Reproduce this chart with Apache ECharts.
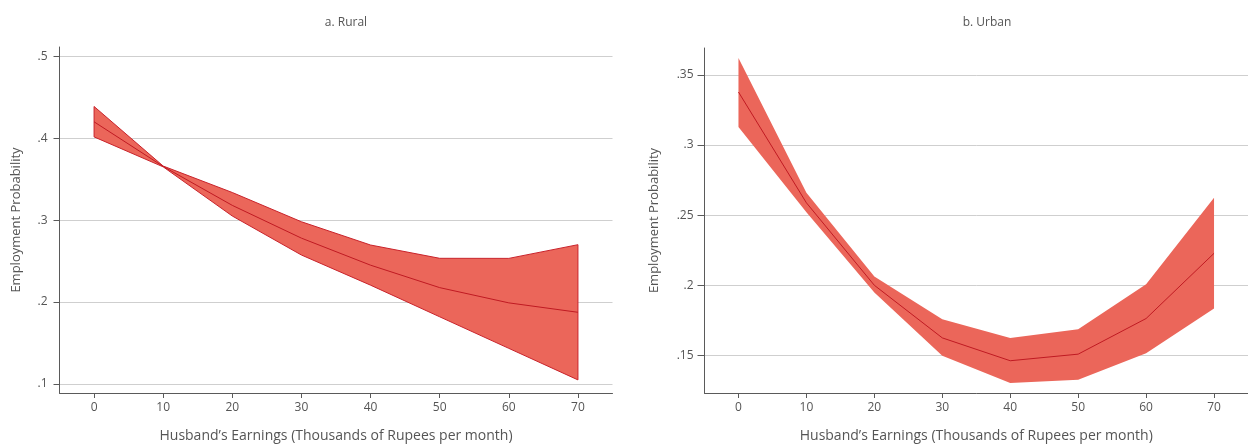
<!DOCTYPE html>
<html>
<head>
<meta charset="utf-8">
<script src="https://cdn.jsdelivr.net/npm/echarts@6/dist/echarts.min.js"></script>
<style>
html,body{margin:0;padding:0;background:#fff;}
#chart{width:1248px;height:448px;}
</style>
</head>
<body>
<div id="chart"></div>
<script>
// ---- data ----
const earnings = [0, 10, 20, 30, 40, 50, 60, 70];
const xTicks = [0, 10, 20, 30, 40, 50, 60, 70];

const ruralMean  = [0.420, 0.3655, 0.318, 0.278, 0.245, 0.2176, 0.199, 0.1875];
const ruralUpper = [0.4387, 0.366, 0.3337, 0.298, 0.2696, 0.2534, 0.2533, 0.270];
const ruralLower = [0.4016, 0.365, 0.305, 0.2574, 0.2206, 0.182, 0.1435, 0.105];
const ruralTicks = [0.1, 0.2, 0.3, 0.4, 0.5];

const urbanMean  = [0.3378, 0.2588, 0.200, 0.1625, 0.1462, 0.1509, 0.1763, 0.2228];
const urbanUpper = [0.362, 0.266, 0.2062, 0.1758, 0.1625, 0.1687, 0.2007, 0.2624];
const urbanLower = [0.3129, 0.2521, 0.1948, 0.1497, 0.1303, 0.1327, 0.1516, 0.1834];
const urbanTicks = [0.15, 0.2, 0.25, 0.3, 0.35];

const panelTitles = ['a. Rural', 'b. Urban'];
const xName = 'Husband\u2019s Earnings (Thousands of Rupees per month)';
const yName = 'Employment Probability';

// ---- chart ----
const FONT = '"Open Sans", "Noto Sans", sans-serif';
const TXT = '#555';
const AX = '#5a5a5a';
const fmtY = v => String(+v.toFixed(4)).replace(/^0/, '');

function bandSeries(idx, xs, lo, hi, stroke) {
  return {
    type: 'custom',
    xAxisIndex: idx, yAxisIndex: idx,
    data: xs.map((x, i) => [x, lo[i], hi[i]]),
    encode: { x: 0, y: [1, 2] },
    silent: true,
    z: 2,
    renderItem: function (params, api) {
      if (params.dataIndex !== 0) return null;
      const pts = [];
      for (let i = 0; i < xs.length; i++) pts.push(api.coord([xs[i], hi[i]]));
      for (let i = xs.length - 1; i >= 0; i--) pts.push(api.coord([xs[i], lo[i]]));
      return {
        type: 'polygon',
        shape: { points: pts },
        style: {
          fill: '#EB665A',
          stroke: stroke ? '#C9232B' : null,
          lineWidth: stroke ? 1 : 0
        }
      };
    }
  };
}

function meanSeries(idx, xs, ys) {
  return {
    type: 'line',
    xAxisIndex: idx, yAxisIndex: idx,
    data: xs.map((x, i) => [x, ys[i]]),
    symbol: 'none',
    lineStyle: { color: '#C01A22', width: 1 },
    silent: true,
    z: 3
  };
}

function xAxisDef(idx) {
  return {
    type: 'value', gridIndex: idx, min: -5, max: 75,
    name: xName, nameLocation: 'middle', nameGap: 36,
    nameTextStyle: { color: TXT, fontSize: 14, fontFamily: FONT },
    axisLine: { show: true, onZero: false, lineStyle: { color: AX, width: 1 } },
    axisTick: { show: true, length: 5, customValues: xTicks, lineStyle: { color: AX } },
    axisLabel: { customValues: xTicks, color: TXT, fontSize: 12, fontFamily: FONT, margin: 9 },
    splitLine: { show: false }
  };
}

function yAxisDef(idx, min, max, ticks, nameGap, margin, tickLen) {
  return {
    type: 'value', gridIndex: idx, min: min, max: max,
    name: yName, nameLocation: 'middle', nameGap: nameGap,
    nameTextStyle: { color: TXT, fontSize: 13, fontFamily: FONT },
    axisLine: { show: true, onZero: false, lineStyle: { color: AX, width: 1 } },
    axisTick: { show: true, length: tickLen, customValues: ticks, lineStyle: { color: AX } },
    axisLabel: { customValues: ticks, color: TXT, fontSize: 12, fontFamily: FONT, margin: margin, formatter: fmtY },
    splitLine: { show: true, lineStyle: { color: '#cfcfcf', width: 1 } }
  };
}

const chart = echarts.init(document.getElementById('chart'), null, { renderer: 'canvas' });
chart.setOption({
  animation: false,
  backgroundColor: '#fff',
  title: [
    { text: panelTitles[0], left: 341, top: 12, textAlign: 'center',
      textStyle: { color: TXT, fontSize: 12, fontWeight: 'normal', fontFamily: FONT } },
    { text: panelTitles[1], left: 982, top: 12, textAlign: 'center',
      textStyle: { color: TXT, fontSize: 12, fontWeight: 'normal', fontFamily: FONT } }
  ],
  grid: [
    { left: 59.5, top: 47, width: 553, height: 347, containLabel: false },
    { left: 704.5, top: 48, width: 543.5, height: 346, containLabel: false }
  ],
  xAxis: [xAxisDef(0), xAxisDef(1)],
  yAxis: [
    yAxisDef(0, 0.089, 0.5113, ruralTicks, 37, 12, 6),
    yAxisDef(1, 0.1232, 0.3692, urbanTicks, 44, 11, 7)
  ],
  series: [
    bandSeries(0, earnings, ruralLower, ruralUpper, true),
    meanSeries(0, earnings, ruralMean),
    bandSeries(1, earnings, urbanLower, urbanUpper, false),
    meanSeries(1, earnings, urbanMean)
  ]
});
</script>
</body>
</html>
